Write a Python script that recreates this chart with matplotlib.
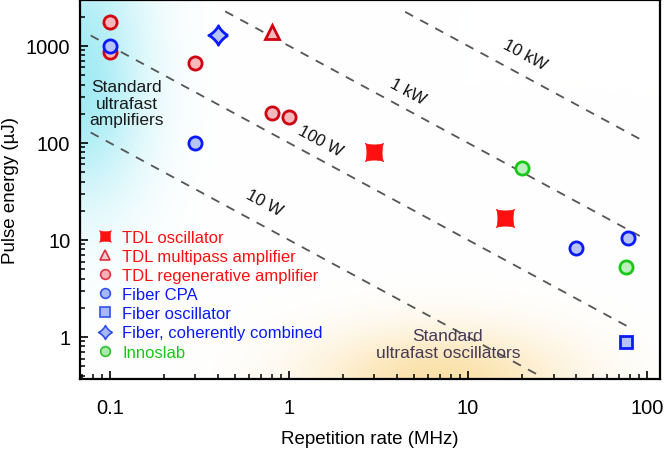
import numpy as np
import matplotlib
matplotlib.use('Agg')
from matplotlib import pyplot
from matplotlib.path import Path
from matplotlib.lines import Line2D

pyplot.rcParams['font.family'] = ['Liberation Sans', 'DejaVu Sans']

# ---- data (repetition rate MHz, pulse energy uJ) ----
tdl_osc_f    = [3.0, 16.0]
tdl_osc_E    = [80, 17]
tdl_mp_f     = [0.8]
tdl_mp_E     = [1400]
tdl_regen_f  = [0.1, 0.1, 0.3, 0.8, 1.0]
tdl_regen_E  = [1780, 870, 660, 205, 185]
fib_cpa_f    = [0.1, 0.3, 40, 78]
fib_cpa_E    = [1000, 100, 8.3, 10.5]
fib_osc_f    = [76]
fib_osc_E    = [0.89]
fib_coh_f    = [0.4]
fib_coh_E    = [1300]
inno_f       = [20, 76]
inno_E       = [55, 5.3]

# constant average power lines (W) and their drawn frequency span (MHz)
power_W      = [10, 100, 1000, 10000]
power_lbl    = ['10 W', '100 W', '1 kW', '10 kW']
power_fspan  = [(0.078, 25), (0.078, 80), (0.44, 91), (4.45, 97)]
lbl_pos      = [(0.73, 24.7), (1.49, 105), (4.6, 343), (20.8, 828)]

# ---- marker shapes ----
t = np.linspace(0, 2*np.pi, 121)
p = 2.5
sx = np.sign(np.cos(t))*np.abs(np.cos(t))**p
sy = np.sign(np.sin(t))*np.abs(np.sin(t))**p
star_plus = Path(np.column_stack([sx, sy]))
r = np.sqrt(0.5)
star_x = Path(np.column_stack([r*(sx - sy), r*(sx + sy)]))

red, red_dk, red_lt = '#ff1010', '#d00010', '#f6b8bc'
blue, blue_lt = '#0a1aff', '#b8c4f4'
green, green_lt = '#18c818', '#bdeebd'

pyplot.close('all')
fig = pyplot.figure(figsize=(6.64, 4.52), dpi=100)
ax = fig.add_axes([80/664, 72/452, 580/664, 379/452])
ax.set_xscale('log'); ax.set_yscale('log')
xlim = (0.068, 118); ylim = (0.369, 2976)

# background glows
ny, nx = 379, 580
yy, xx = np.mgrid[0:ny, 0:nx]
yy = ny - yy  # pixel from bottom
img = np.ones((ny, nx, 4))
cy = np.exp(-((xx - 0)/65.0)**2 - ((yy - 290)/115.0)**2)
cy = np.where(yy > 290, np.exp(-((xx)/65.0)**2 - ((yy - 290)/170.0)**2), cy)
og = np.exp(-((xx - 360)/125.0)**2 - ((yy - 0)/50.0)**2)
c1 = np.array([140, 230, 242])/255.
c2 = np.array([250, 215, 140])/255.
a1, a2 = 0.8, 0.75
rgb = np.ones((ny, nx, 3))
rgb = rgb*(1 - cy[..., None]*a1) + c1*cy[..., None]*a1
rgb = rgb*(1 - og[..., None]*a2) + c2*og[..., None]*a2
img[..., :3] = rgb
img[..., 3] = 1
ax.imshow(img, extent=(0, 1, 0, 1), transform=ax.transAxes, aspect='auto', zorder=0, interpolation='bilinear')

# power lines
for P, (f0, f1), lbl, (lx, ly) in zip(power_W, power_fspan, power_lbl, lbl_pos):
	f = np.array([f0, f1])
	ax.plot(f, P/f, ls=(0, (5, 4.5)), color='#555555', lw=1.3, zorder=1)
	ax.text(lx, ly, lbl, rotation=-28.5, ha='center', va='center', fontsize=12, color='#111111', rotation_mode='anchor')

ms, mew = 9.5, 2.0
ax.plot(tdl_osc_f, tdl_osc_E, ls='none', marker=star_x, ms=13, mfc=red, mec=red, mew=0.5, zorder=3)
ax.plot(tdl_mp_f, tdl_mp_E, ls='none', marker='^', ms=10, mfc=red_lt, mec=red_dk, mew=mew, zorder=3)
ax.plot(tdl_regen_f, tdl_regen_E, ls='none', marker='o', ms=ms, mfc=red_lt, mec=red_dk, mew=mew, zorder=3)
ax.plot(fib_cpa_f, fib_cpa_E, ls='none', marker='o', ms=ms, mfc=blue_lt, mec=blue, mew=mew, zorder=4)
ax.plot(fib_osc_f, fib_osc_E, ls='none', marker='s', ms=8.5, mfc=blue_lt, mec=blue, mew=mew, zorder=3)
ax.plot(fib_coh_f, fib_coh_E, ls='none', marker=star_plus, ms=14, mfc=blue_lt, mec=blue, mew=mew, zorder=3)
ax.plot(inno_f, inno_E, ls='none', marker='o', ms=ms, mfc=green_lt, mec=green, mew=mew, zorder=3)

# region labels
ax.text(0.124, 258, 'Standard\nultrafast\namplifiers', ha='center', va='center', fontsize=12.5, color='#1a1a1a', linespacing=1.15)
ax.text(7.7, 0.85, 'Standard\nultrafast oscillators', ha='center', va='center', fontsize=12.5, color='#463a5a', linespacing=1.15)

# legend
lms, lmew = 7, 1.2
handles = [
	Line2D([], [], ls='none', marker=star_x, ms=8.5, mfc=red, mec=red, mew=0.3),
	Line2D([], [], ls='none', marker='^', ms=7.5, mfc='#f8c8cc', mec='#e03040', mew=lmew),
	Line2D([], [], ls='none', marker='o', ms=lms, mfc='#f4b0b4', mec='#e03040', mew=lmew),
	Line2D([], [], ls='none', marker='o', ms=lms, mfc='#a8b8f0', mec='#3050f0', mew=lmew),
	Line2D([], [], ls='none', marker='s', ms=6.5, mfc='#a8b8f0', mec='#3050f0', mew=lmew),
	Line2D([], [], ls='none', marker=star_plus, ms=10, mfc='#a8b8f0', mec='#3050f0', mew=lmew),
	Line2D([], [], ls='none', marker='o', ms=lms, mfc='#a8e8a8', mec='#30c030', mew=lmew),
]
labels = ['TDL oscillator', 'TDL multipass amplifier', 'TDL regenerative amplifier',
	'Fiber CPA', 'Fiber oscillator', 'Fiber, coherently combined', 'Innoslab']
lcolors = [red, red, red, blue, blue, blue, green]
leg = ax.legend(handles, labels, loc='upper left', bbox_to_anchor=(0.017, 0.412), frameon=False,
	fontsize=12, handlelength=1.0, handletextpad=0.55, labelspacing=0.25, borderaxespad=0, labelcolor=lcolors)

ax.set_xlim(xlim); ax.set_ylim(ylim)
ax.set_xticks([0.1, 1, 10, 100]); ax.set_xticklabels(['0.1', '1', '10', '100'])
ax.set_yticks([1, 10, 100, 1000]); ax.set_yticklabels(['1', '10', '100', '1000'])
ax.tick_params(which='major', direction='in', length=6, width=1.2, labelsize=14.5, top=False, right=False, pad=7)
ax.tick_params(which='minor', direction='in', length=3.5, width=1.1, top=False, right=False)
ax.tick_params(axis='x', which='major', pad=14)
for s in ax.spines.values():
	s.set_linewidth(1.6)
ax.set_xlabel('Repetition rate (MHz)', fontsize=13.5, labelpad=9)
ax.set_ylabel('Pulse energy (µJ)', fontsize=13.5, labelpad=5)

pyplot.savefig('out.png', dpi=100)
